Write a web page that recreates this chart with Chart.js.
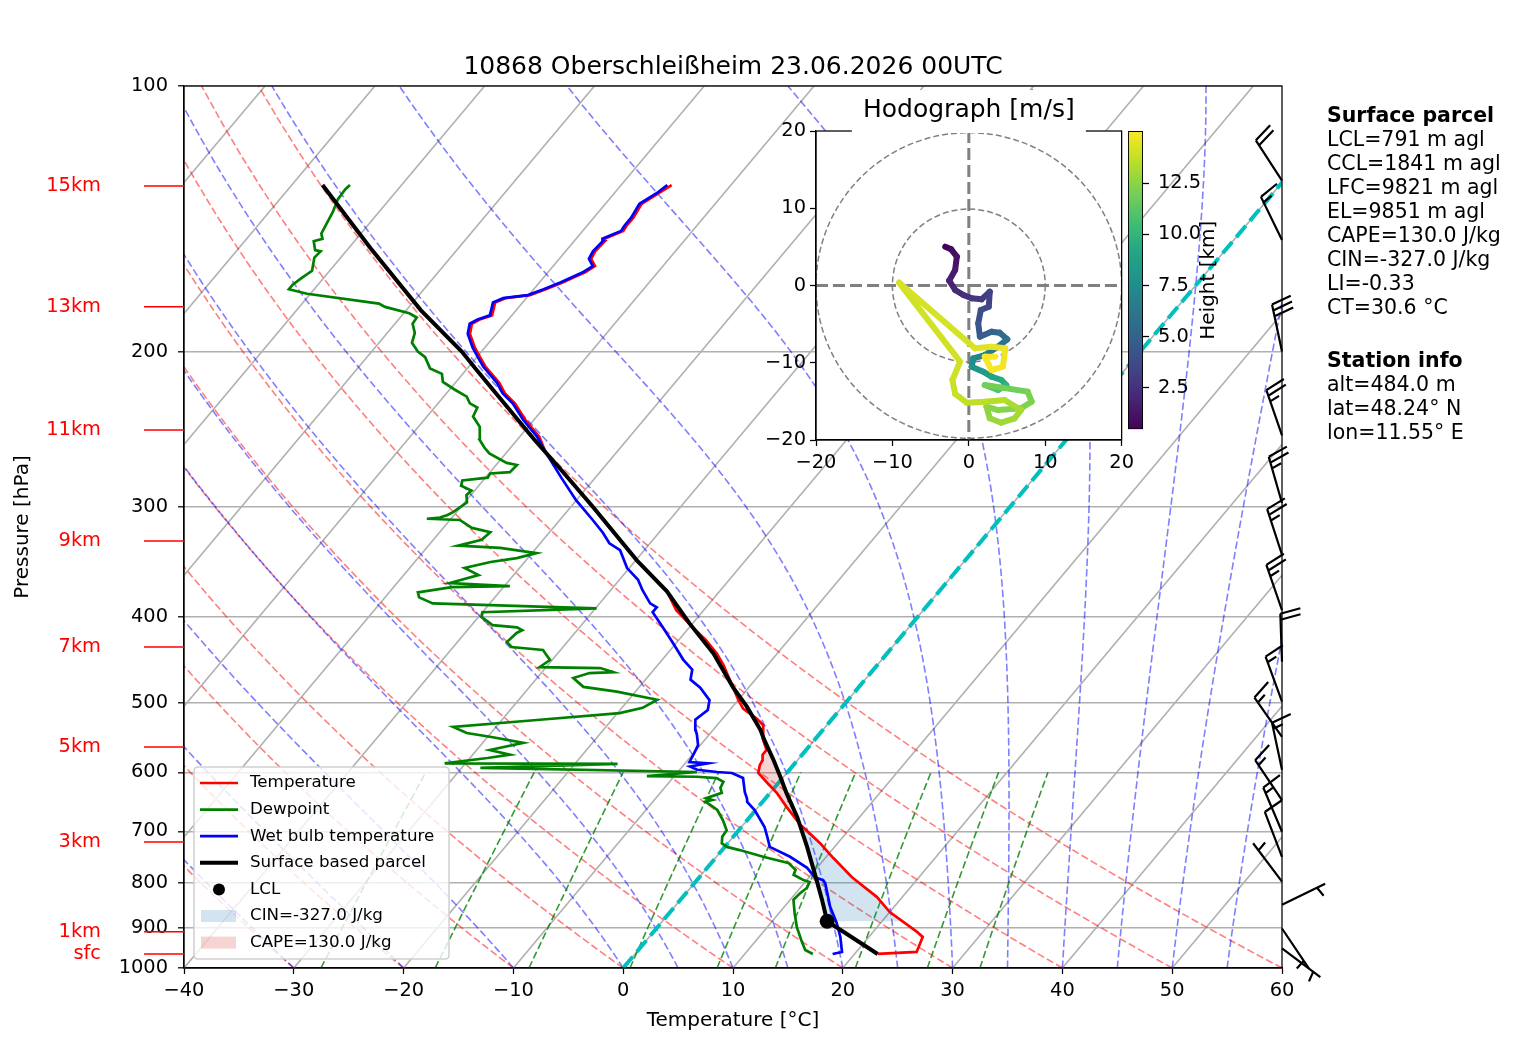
<!DOCTYPE html>
<html>
<head>
<meta charset="utf-8">
<script src="https://cdn.jsdelivr.net/npm/chart.js@4.4.1/dist/chart.umd.min.js"></script>
<style>
  html, body { margin: 0; padding: 0; background: #fff; }
  #wrap { position: relative; width: 1517px; height: 1054px; overflow: hidden; font-family: "DejaVu Sans", sans-serif; }
  canvas { position: absolute; }
  #main { left: 0; top: 0; }
  #hodo { left: 700px; top: 86px; }
  #cbar { left: 1120px; top: 100px; }
  .info { position: absolute; left: 1327px; font-size: 20.5px; line-height: 24px; color: #000; white-space: pre; }
</style>
</head>
<body>
<div id="wrap">
  <canvas id="main" width="1517" height="1054"></canvas>
  <canvas id="hodo" width="439" height="394"></canvas>
  <canvas id="cbar" width="138" height="350"></canvas>
  <div class="info" id="parcelInfo" style="top:102.6px"></div>
  <div class="info" id="stationInfo" style="top:347.6px"></div>
</div>
<script>
// ---- sounding data (surface -> top), pressure in hPa, temperature in degC ----
const tempP = [964,959,922,910,864,831,789,750,739,722,688,657,633,617,601,589,581,573,566,551,530.5,521.5,508,496.5,480,453.5,440,425,407,393,374,345,300,272,260,250,239,229,223,217,208,203,198,191,186,184,182,178.5,176,174,172.6,170,167,162.5,160,157,154,150,149,146,144,141,136,132,129.5];
const tempT = [22.1,25.5,24.9,24.0,20.0,17.7,13.9,10.7,9.8,8.4,5.2,2.6,0.6,-1.0,-2.6,-3.05,-3.2,-3.6,-3.6,-4.7,-5.8,-6.9,-8.9,-10.0,-11.5,-14.0,-15.5,-17.5,-20.3,-22.5,-24.8,-29.9,-38.0,-43.8,-46.5,-48.2,-50.8,-53.0,-54.7,-56.0,-58.5,-59.7,-60.9,-62.4,-63.0,-62.6,-61.8,-62.2,-62.5,-61.9,-59.9,-58.9,-57.9,-56.6,-56.2,-57.1,-57.3,-57.2,-57.4,-56.3,-56.4,-56.4,-56.7,-55.9,-55.4];

const dewP = [964,954,930,899,866,837,822,812,799,795,784,774,760,748,735,729,722,710,698,680,662,653,648,645,642,633,625,615,609,607,606,599.5,593,587,586,578,573,566,555.5,547.5,541.5,533,523.4,514,507,496.5,486,480,469,463,462,457,456,447.5,436,432.6,427,417,414,411,408.5,400,395,391,386,380,375,370,369,366,358.5,352,346.5,343,338.5,334,332,327,320.5,317,310.5,309.5,308.5,306.5,304,296.5,291,287.5,284,280,278,275,274,269,267.5,261,257,252,243.5,237,231.5,229,225,221,216.5,212,209,203,200,195.5,190.5,186,183,181,178,176.5,172,170,168,165,162,156.5,154,153.5,150,149,147,143,139,134.5,131,129.5];
const dewT = [16.2,15.2,14.1,12.7,11.4,10.3,10.4,10.6,10.4,9.7,8.4,8.2,7.0,4.25,1.6,0.2,-0.55,-1.0,-1.1,-2.2,-3.5,-4.55,-5.2,-4.7,-5.4,-4.4,-4.9,-5.1,-6.0,-7.9,-12.5,-8.25,-28.3,-16.1,-31.9,-28.4,-26.6,-28.8,-26.3,-29.5,-32.2,-33.9,-26.8,-19.8,-18.1,-17.4,-21.7,-25.1,-26.7,-25.6,-23.5,-25.0,-30.6,-30.2,-31.6,-34.7,-35.5,-35.3,-35.0,-35.7,-38.1,-39.7,-40.0,-29.9,-45.2,-46.9,-47.4,-44.7,-39.5,-45.2,-43.2,-45.0,-43.1,-41.0,-39.6,-43.3,-47.3,-45.6,-45.4,-47.4,-49.1,-52.2,-51.1,-50.6,-50.3,-49.8,-50.4,-50.3,-51.6,-51.9,-49.8,-49.9,-48.2,-48.1,-49.2,-51.5,-52.4,-53.4,-54.4,-55.8,-56.1,-57.1,-57.9,-59.5,-61.2,-61.9,-63.4,-64.7,-65.8,-67.0,-67.5,-68.4,-68.5,-69.5,-72.2,-73.0,-80.3,-82.3,-82.3,-82.0,-81.6,-82.4,-82.3,-82.9,-83.7,-83.1,-83.6,-83.9,-84.2,-84.7,-84.8,-84.7];

const wetP = [964,959,922,889,853,801,795,789,770,748,729,710,692,662,648,642,632,609,601,599.5,596,591,586,584,573,559,544,537,523,510,497,481,471,459,447,428,411,395,390,386,373,363,352,336,330,321,310.5,295,278,261,250,239,229,223,217,208,203,198,191,186,184,182,178.5,176,174,172.6,170,167,162.5,160,157,154,150,149,146,144,141,136,132,129.5];
const wetT = [18.0,18.7,17.4,16.0,14.2,11.9,11.5,10.5,9.1,6.7,4.1,3.1,2.1,-0.1,-1.4,-1.7,-2.35,-3.6,-5.0,-6.4,-8.4,-9.3,-7.9,-9.7,-9.9,-10.2,-11.1,-11.6,-12.4,-12.0,-12.6,-14.4,-15.9,-16.5,-18.1,-20.3,-22.4,-24.5,-24.5,-25.4,-27.1,-28.3,-30.2,-32.2,-33.7,-35.1,-37.0,-40.0,-43.1,-46.3,-48.4,-51.0,-53.2,-54.9,-56.2,-58.7,-59.9,-61.1,-62.6,-63.2,-62.8,-62.0,-62.4,-62.7,-62.1,-60.1,-59.1,-58.1,-56.8,-56.4,-57.3,-57.5,-57.4,-57.6,-56.5,-56.6,-56.6,-56.9,-56.1,-55.8];

const parcelP = [964,885,837,795,729,674,634,607,581,551,537,505.5,480,440,407,374,345,300,272,252,210,200,179.5,152.7,129.5];
const parcelT = [22.1,15.0,12.9,10.9,7.5,4.3,1.55,-0.3,-2.2,-4.6,-5.7,-8.7,-11.5,-15.8,-20.25,-24.8,-29.9,-38.0,-43.8,-48.4,-59.0,-61.8,-68.7,-78.0,-87.2];

const lclP = 885, lclT = 15.0;
const cinLayer = [885, 690];    // bottom, top (hPa)
const capeLayer = [688, 568];
const cinLabel = 'CIN=-327.0 J/kg';
const capeLabel = 'CAPE=130.0 J/kg';

// wind barbs: pressure, direction (deg, from), speed (kt)
const windP = [128,149.5,200,249,297,340,393,449.5,499,547,596,645,700.6,748,798,848,902,950];
const windDir = [327,334,348,341,344,342,341,358,340,325,348,326,337,339,323,64,146,127];
const windSpd = [20,15,30,25,25,25,25,20,15,15,15,15,15,10,5,5,5,5];

// hodograph: height (km), u, v (m/s)
const hodoH = [0.48,0.8,1.1,1.4,1.7,2.0,2.3,2.6,2.9,3.2,3.5,3.8,4.2,4.6,5.0,5.4,5.8,6.2,6.7,7.2,7.7,8.2,8.7,9.2,9.7,10.2,11.8,12.0,12.2,12.3,12.4,12.5,12.7,12.9,13.0,13.1,13.3,13.5,13.7,13.8,13.9,14.0,14.1,14.2,14.4,14.6,14.8,14.9,15.0,15.05];
const hodoU = [-3.09,-2.31,-1.57,-1.79,-2.57,-1.79,-0.71,0.37,1.66,2.74,2.61,1.57,1.23,1.45,2.96,4.03,5.03,3.82,2.09,0.58,0.37,1.88,2.96,4.25,4.90,3.82,2.09,7.70,8.22,6.84,3.82,2.31,2.74,4.25,5.98,6.84,4.68,2.09,-0.28,-1.79,-2.14,-1.14,-9.13,0.80,2.96,4.77,4.46,2.96,2.09,3.39];
const hodoV = [5.03,4.68,3.73,2.01,0.63,-0.58,-1.23,-1.66,-1.79,-0.80,-2.74,-3.17,-4.90,-6.62,-5.98,-6.11,-6.97,-7.92,-9.00,-9.43,-10.51,-11.15,-11.80,-12.23,-12.88,-13.53,-12.88,-13.74,-15.04,-15.90,-16.12,-15.68,-17.19,-17.76,-17.19,-16.12,-14.82,-15.04,-15.17,-14.04,-12.23,-9.86,0.37,-8.13,-7.92,-8.13,-10.51,-10.94,-9.21,-9.21];
const hodoRings = [10, 20];
const cbarRange = [0.48, 15.05];
const cbarTicks = [2.5, 5.0, 7.5, 10.0, 12.5];

// axes, reference lines and labels
const pressureTicks = [100,200,300,400,500,600,700,800,900,1000];
const heightLabels = ['15km','13km','11km','9km','7km','5km','3km','1km','sfc'];
const heightP = [129.8,178,245.5,328,432.6,561.6,719.7,910,964];
const isothermT = [-100,-90,-80,-70,-60,-50,-40,-30,-20,-10,0,10,20,30,40,50];
const dryAdiabatT0 = [-40,-30,-20,-10,0,10,20,30,40,50,60];
const moistAdiabatT0 = [-40,-30,-20,-10,0,5,10,15,20,25,30,35,40,45,50,55,60];
const mixingRatios = [0.0004,0.001,0.002,0.004,0.007,0.01,0.016,0.024,0.032];

const titleText = '10868 Oberschleißheim 23.06.2026 00UTC';
const parcelInfo = ['LCL=791 m agl','CCL=1841 m agl','LFC=9821 m agl','EL=9851 m agl','CAPE=130.0 J/kg','CIN=-327.0 J/kg','LI=-0.33','CT=30.6 °C'];
const stationInfo = ['alt=484.0 m','lat=48.24° N','lon=11.55° E'];

const VIRIDIS = ['#440154','#482475','#414487','#355f8d','#2a788e','#21918c','#22a884','#44bf70','#7ad151','#bddf26','#fde725'];

// ---- helpers ----
const FONT = '"DejaVu Sans", sans-serif';
const FS_TICK = 19.4;
Chart.defaults.font.family = FONT;
Chart.defaults.color = '#000';

const SKEW = 67.38;  // degC shift per decade of pressure
const skewX = (t, p) => t + SKEW * (3 - Math.log10(p));
const toPts = (pArr, tArr) => pArr.map((p, i) => ({ x: skewX(tArr[i], p), y: p }));
const minus = v => (v < 0 ? '\u2212' + Math.abs(v) : String(v));

const RD = 287.04749, CP = 1004.6662, LV = 2.50084e6, EPS = 0.6219569, KAPPA = RD / CP;
const pLevels = [];
for (let p = 1000; p >= 100; p -= 10) pLevels.push(p);

function moistAdiabat(t0) {
  const slope = (T, p) => {
    const es = 6.112 * Math.exp(17.67 * (T - 273.15) / (T - 29.65));
    const rs = EPS * es / (p - es);
    return (RD * T + LV * rs) / (p * (CP + (LV * LV * rs * EPS) / (RD * T * T)));
  };
  let T = t0 + 273.15, p = 1000;
  const out = [{ x: skewX(t0, 1000), y: 1000 }];
  const h = -5;
  while (p > 100) {
    const k1 = slope(T, p);
    const k2 = slope(T + h * k1 / 2, p + h / 2);
    const k3 = slope(T + h * k2 / 2, p + h / 2);
    const k4 = slope(T + h * k3, p + h);
    T += h * (k1 + 2 * k2 + 2 * k3 + k4) / 6;
    p += h;
    out.push({ x: skewX(T - 273.15, p), y: p });
  }
  return out;
}

function mixingLine(w) {
  const out = [];
  for (let p = 1000; p >= 600; p -= 20) {
    const e = p * w / (EPS + w);
    const l = Math.log(e / 6.112);
    out.push({ x: skewX(243.5 * l / (17.67 - l), p), y: p });
  }
  return out;
}

function interpT(pArr, tArr, p) {
  for (let i = 0; i < pArr.length - 1; i++) {
    const p0 = pArr[i], p1 = pArr[i + 1];
    if ((p0 - p) * (p1 - p) <= 0 && p0 !== p1) {
      const f = (Math.log(p) - Math.log(p0)) / (Math.log(p1) - Math.log(p0));
      return tArr[i] + f * (tArr[i + 1] - tArr[i]);
    }
  }
  return NaN;
}

// closed ring: parcel going up, environment coming back down
function areaBetween([pBot, pTop]) {
  const ring = [{ p: pBot, t: interpT(parcelP, parcelT, pBot) }];
  parcelP.forEach((p, i) => { if (p < pBot && p > pTop) ring.push({ p, t: parcelT[i] }); });
  ring.push({ p: pTop, t: interpT(parcelP, parcelT, pTop) });
  ring.push({ p: pTop, t: interpT(tempP, tempT, pTop) });
  const env = [];
  tempP.forEach((p, i) => { if (p < pBot && p > pTop) env.push({ p, t: tempT[i] }); });
  env.reverse().forEach(o => ring.push(o));
  ring.push({ p: pBot, t: interpT(tempP, tempT, pBot) });
  return ring.map(o => ({ x: skewX(o.t, o.p), y: o.p }));
}

function viridis(v) {
  const t = Math.min(1, Math.max(0, v)) * (VIRIDIS.length - 1);
  const i = Math.min(VIRIDIS.length - 2, Math.floor(t));
  const f = t - i;
  const a = VIRIDIS[i], b = VIRIDIS[i + 1];
  const c = k => Math.round(parseInt(a.substr(k, 2), 16) * (1 - f) + parseInt(b.substr(k, 2), 16) * f);
  return `rgb(${c(1)},${c(3)},${c(5)})`;
}

function mkLine(data, color, width, dash, order, extra) {
  return Object.assign({
    data, borderColor: color, backgroundColor: color, borderWidth: width,
    borderDash: dash, pointRadius: 0, showLine: true, fill: false, order, clip: 0
  }, extra || {});
}

// ---- main skew-T ----
const datasets = [
  mkLine([{ x: skewX(lclT, lclP), y: lclP }], '#000', 0, [], 0,
    { label: 'LCL', showLine: false, pointRadius: 7.5, legendKind: 'dot', clip: false }),
  mkLine(toPts(parcelP, parcelT), '#000', 4, [], 1, { label: 'Surface based parcel', legendKind: 'line' }),
  mkLine(toPts(wetP, wetT), '#0000ff', 2.7, [], 2, { label: 'Wet bulb temperature', legendKind: 'line' }),
  mkLine(toPts(dewP, dewT), '#008000', 2.7, [], 3, { label: 'Dewpoint', legendKind: 'line' }),
  mkLine(toPts(tempP, tempT), '#ff0000', 2.7, [], 4, { label: 'Temperature', legendKind: 'line' }),
  mkLine(areaBetween(cinLayer), 'rgba(0,0,0,0)', 0, [], 5,
    { label: cinLabel, fill: 'shape', backgroundColor: 'rgba(31,119,180,0.2)', legendKind: 'patch' }),
  mkLine(areaBetween(capeLayer), 'rgba(0,0,0,0)', 0, [], 5,
    { label: capeLabel, fill: 'shape', backgroundColor: 'rgba(214,39,40,0.2)', legendKind: 'patch' }),
  mkLine([{ x: skewX(0, 1000), y: 1000 }, { x: skewX(0, 100), y: 100 }], '#00bfbf', 4, [14.8, 6.4], 6)
];
mixingRatios.forEach(w => datasets.push(mkLine(mixingLine(w), 'rgba(0,128,0,0.8)', 1.6, [7.4, 3.2], 7)));
moistAdiabatT0.forEach(t0 => datasets.push(mkLine(moistAdiabat(t0), 'rgba(0,0,255,0.5)', 1.6, [7.4, 3.2], 8)));
dryAdiabatT0.forEach(t0 => datasets.push(mkLine(
  pLevels.map(p => ({ x: skewX((t0 + 273.15) * Math.pow(p / 1000, KAPPA) - 273.15, p), y: p })),
  'rgba(255,0,0,0.5)', 1.6, [7.4, 3.2], 9)));
isothermT.forEach(t => datasets.push(mkLine(
  [{ x: skewX(t, 1000), y: 1000 }, { x: skewX(t, 100), y: 100 }], '#b0b0b0', 1.6, [], 10)));

const legendOrder = ['Temperature', 'Dewpoint', 'Wet bulb temperature', 'Surface based parcel', 'LCL', cinLabel, capeLabel];

function drawBarb(ctx, bx, by, dirDeg, spd) {
  const L = 48, spacing = 0.125 * L, out = 0.42 * L, along = 0.1 * L;
  const r = dirDeg * Math.PI / 180;
  const sx = Math.sin(r), sy = -Math.cos(r);
  const px = -sy, py = sx;
  const tx = bx + sx * L, ty = by + sy * L;
  ctx.beginPath();
  ctx.moveTo(bx, by); ctx.lineTo(tx, ty);
  let rest = Math.round(spd / 5) * 5;
  const flags = Math.floor(rest / 50); rest -= flags * 50;
  const fulls = Math.floor(rest / 10); rest -= fulls * 10;
  const half = rest >= 5;
  let off = 0;
  for (let i = 0; i < flags; i++) {
    const qx = tx - sx * off, qy = ty - sy * off;
    ctx.moveTo(qx, qy);
    ctx.lineTo(qx + px * out - sx * spacing, qy + py * out - sy * spacing);
    ctx.lineTo(qx - sx * 2 * spacing, qy - sy * 2 * spacing);
    off += 2.5 * spacing;
  }
  for (let i = 0; i < fulls; i++) {
    const qx = tx - sx * off, qy = ty - sy * off;
    ctx.moveTo(qx, qy);
    ctx.lineTo(qx + px * out + sx * along, qy + py * out + sy * along);
    off += spacing;
  }
  if (half) {
    if (flags === 0 && fulls === 0) off += 1.5 * spacing;
    const qx = tx - sx * off, qy = ty - sy * off;
    ctx.moveTo(qx, qy);
    ctx.lineTo(qx + px * out / 2 + sx * along / 2, qy + py * out / 2 + sy * along / 2);
  }
  ctx.stroke();
}

const skewDecor = {
  id: 'skewDecor',
  afterDatasetsDraw(chart) {
    const { ctx, chartArea: a, scales } = chart;
    const ys = scales.y;
    ctx.save();
    ctx.setLineDash([]);
    ctx.strokeStyle = '#000';
    ctx.lineWidth = 1.25;
    ctx.strokeRect(a.left, a.top, a.right - a.left, a.bottom - a.top);

    // height markers
    ctx.strokeStyle = 'red'; ctx.fillStyle = 'red'; ctx.lineWidth = 1.5;
    ctx.font = `${FS_TICK}px ${FONT}`;
    ctx.textAlign = 'right'; ctx.textBaseline = 'middle';
    heightLabels.forEach((lab, i) => {
      const py = ys.getPixelForValue(heightP[i]);
      ctx.beginPath(); ctx.moveTo(144, py); ctx.lineTo(a.left, py); ctx.stroke();
      ctx.fillText(lab, 101, py);
    });

    // wind barbs on the right spine
    ctx.strokeStyle = '#000'; ctx.lineWidth = 2.2; ctx.lineCap = 'butt';
    windP.forEach((p, i) => drawBarb(ctx, a.right, ys.getPixelForValue(p), windDir[i], windSpd[i]));

    // legend
    const lx = 194, ly = 767, lw = 255, lh = 192, rr = 4;
    ctx.beginPath();
    ctx.moveTo(lx + rr, ly); ctx.lineTo(lx + lw - rr, ly); ctx.quadraticCurveTo(lx + lw, ly, lx + lw, ly + rr);
    ctx.lineTo(lx + lw, ly + lh - rr); ctx.quadraticCurveTo(lx + lw, ly + lh, lx + lw - rr, ly + lh);
    ctx.lineTo(lx + rr, ly + lh); ctx.quadraticCurveTo(lx, ly + lh, lx, ly + lh - rr);
    ctx.lineTo(lx, ly + rr); ctx.quadraticCurveTo(lx, ly, lx + rr, ly);
    ctx.closePath();
    ctx.fillStyle = 'rgba(255,255,255,0.8)'; ctx.fill();
    ctx.strokeStyle = '#d0d0d0'; ctx.lineWidth = 1.5; ctx.stroke();
    ctx.font = `16.7px ${FONT}`; ctx.textAlign = 'left'; ctx.textBaseline = 'middle';
    legendOrder.forEach((label, i) => {
      const ds = chart.data.datasets.find(d => d.label === label);
      const cy = 783 + i * 26.6;
      if (ds.legendKind === 'line') {
        ctx.strokeStyle = ds.borderColor; ctx.lineWidth = ds.borderWidth;
        ctx.beginPath(); ctx.moveTo(200, cy); ctx.lineTo(238, cy); ctx.stroke();
      } else if (ds.legendKind === 'dot') {
        ctx.fillStyle = ds.backgroundColor;
        ctx.beginPath(); ctx.arc(219, cy, 6, 0, 2 * Math.PI); ctx.fill();
      } else {
        ctx.fillStyle = ds.backgroundColor;
        ctx.fillRect(201, cy - 6, 35, 12);
      }
      ctx.fillStyle = '#000';
      ctx.fillText(label, 250, cy);
    });

    // title
    ctx.font = `25px ${FONT}`; ctx.textAlign = 'center'; ctx.textBaseline = 'alphabetic';
    ctx.fillText(titleText, (a.left + a.right) / 2, 73.5);
    ctx.restore();
  }
};

new Chart(document.getElementById('main'), {
  type: 'scatter',
  data: { datasets },
  options: {
    responsive: false, animation: false, events: [],
    layout: { padding: { left: 0, top: 86, right: 235, bottom: 0 } },
    scales: {
      x: {
        type: 'linear', min: -40, max: 60,
        ticks: { stepSize: 10, padding: 5, maxRotation: 0, autoSkip: false, font: { size: FS_TICK }, color: '#000', callback: minus },
        grid: { drawOnChartArea: false, tickLength: 6, tickColor: '#000', tickWidth: 1.25 },
        border: { color: '#000', width: 1.25 },
        title: { display: true, text: 'Temperature [°C]', font: { size: 20 }, color: '#000', padding: { top: 0, bottom: 21 } },
        afterFit: s => { s.height = 86; }
      },
      y: {
        type: 'logarithmic', reverse: true, min: 100, max: 1000,
        afterBuildTicks: s => { s.ticks = pressureTicks.map(v => ({ value: v })); },
        ticks: { padding: 10, autoSkip: false, font: { size: FS_TICK }, color: '#000', callback: v => String(v) },
        grid: { color: '#b0b0b0', lineWidth: 1.6, tickLength: 6, tickColor: '#000', tickWidth: 1.25 },
        border: { color: '#000', width: 1.25 },
        title: { display: true, text: 'Pressure [hPa]', font: { size: 20 }, color: '#000', padding: { top: 11, bottom: 0 } },
        afterFit: s => { s.width = 184; }
      }
    },
    plugins: { legend: { display: false }, tooltip: { enabled: false } }
  },
  plugins: [skewDecor]
});

// ---- hodograph inset ----
const hNorm = h => (h - cbarRange[0]) / (cbarRange[1] - cbarRange[0]);
const hodoDecor = {
  id: 'hodoDecor',
  beforeDraw(chart) {
    const { ctx, chartArea: a } = chart;
    ctx.save(); ctx.fillStyle = '#fff';
    ctx.fillRect(a.left, a.top, a.right - a.left, a.bottom - a.top);
    ctx.restore();
  },
  beforeDatasetsDraw(chart) {
    const { ctx, chartArea: a, scales: { x, y } } = chart;
    const cx = x.getPixelForValue(0), cy = y.getPixelForValue(0);
    ctx.save();
    ctx.beginPath(); ctx.rect(a.left, a.top, a.right - a.left, a.bottom - a.top); ctx.clip();
    ctx.strokeStyle = 'gray'; ctx.lineWidth = 1.5; ctx.setLineDash([6, 3]);
    hodoRings.forEach(r => {
      const rp = Math.abs(x.getPixelForValue(r) - cx);
      ctx.beginPath(); ctx.arc(cx, cy, rp, 0, 2 * Math.PI); ctx.stroke();
    });
    ctx.lineWidth = 3; ctx.setLineDash([12, 5]);
    ctx.beginPath();
    ctx.moveTo(a.left, cy); ctx.lineTo(a.right, cy);
    ctx.moveTo(cx, a.top); ctx.lineTo(cx, a.bottom);
    ctx.stroke();
    ctx.restore();
  },
  afterDraw(chart) {
    const { ctx, chartArea: a } = chart;
    ctx.save();
    ctx.strokeStyle = '#000'; ctx.lineWidth = 1.25;
    ctx.strokeRect(a.left, a.top, a.right - a.left, a.bottom - a.top);
    const cx = (a.left + a.right) / 2;
    ctx.fillStyle = '#fff';
    ctx.fillRect(cx - 117, 4, 234, a.top - 2);
    ctx.fillStyle = '#000'; ctx.font = `25px ${FONT}`;
    ctx.textAlign = 'center'; ctx.textBaseline = 'alphabetic';
    ctx.fillText('Hodograph [m/s]', cx, 30.5);
    ctx.restore();
  }
};

const hodoAxis = (extra) => Object.assign({
  type: 'linear', min: -20, max: 20,
  ticks: { stepSize: 10, padding: 5, font: { size: FS_TICK }, color: '#000', callback: minus, maxRotation: 0 },
  grid: { drawOnChartArea: false, tickLength: 6, tickColor: '#000', tickWidth: 1.25 },
  border: { color: '#000', width: 1.25 }
}, extra);

new Chart(document.getElementById('hodo'), {
  type: 'scatter',
  data: {
    datasets: [{
      data: hodoU.map((u, i) => ({ x: u, y: hodoV[i] })),
      showLine: true, pointRadius: 0, borderWidth: 6,
      borderCapStyle: 'round', borderJoinStyle: 'round',
      borderColor: viridis(0),
      segment: { borderColor: c => viridis(hNorm((hodoH[c.p0DataIndex] + hodoH[c.p1DataIndex]) / 2)) }
    }]
  },
  options: {
    responsive: false, animation: false, events: [],
    layout: { padding: { left: 0, top: 45, right: 14, bottom: 0 } },
    scales: {
      x: hodoAxis({ afterFit: s => { s.height = 40; } }),
      y: hodoAxis({ ticks: { stepSize: 10, padding: 4, font: { size: FS_TICK }, color: '#000', callback: minus }, afterFit: s => { s.width = 116; } })
    },
    plugins: { legend: { display: false }, tooltip: { enabled: false } }
  },
  plugins: [hodoDecor]
});

// ---- colorbar ----
new Chart(document.getElementById('cbar'), {
  type: 'bar',
  data: {
    labels: [''],
    datasets: [{
      data: [cbarRange],
      backgroundColor: c => {
        const a = c.chart.chartArea;
        if (!a) return VIRIDIS[5];
        const g = c.chart.ctx.createLinearGradient(0, a.bottom, 0, a.top);
        VIRIDIS.forEach((col, i) => g.addColorStop(i / (VIRIDIS.length - 1), col));
        return g;
      },
      borderColor: '#000', borderWidth: 1.25, borderSkipped: false,
      barPercentage: 1, categoryPercentage: 1
    }]
  },
  options: {
    responsive: false, animation: false, events: [],
    layout: { padding: { left: 8, top: 31, right: 0, bottom: 10 } },
    scales: {
      x: { display: false },
      y: {
        position: 'right', min: cbarRange[0], max: cbarRange[1],
        afterBuildTicks: s => { s.ticks = cbarTicks.map(v => ({ value: v })); },
        ticks: { padding: 9, font: { size: FS_TICK }, color: '#000', callback: v => v.toFixed(1) },
        grid: { drawOnChartArea: false, tickLength: 6, tickColor: '#000', tickWidth: 1.25 },
        border: { display: false },
        afterFit: s => { s.width = 115; }
      }
    },
    plugins: { legend: { display: false }, tooltip: { enabled: false } }
  },
  plugins: [{
    id: 'cbarLabel',
    afterDraw(chart) {
      const { ctx, chartArea: a } = chart;
      ctx.save();
      ctx.translate(89, (a.top + a.bottom) / 2);
      ctx.rotate(-Math.PI / 2);
      ctx.font = `20px ${FONT}`; ctx.fillStyle = '#000';
      ctx.textAlign = 'center'; ctx.textBaseline = 'middle';
      ctx.fillText('Height [km]', 0, 0);
      ctx.restore();
    }
  }]
});

// ---- text panel ----
document.getElementById('parcelInfo').innerHTML = '<b>Surface parcel</b>\n' + parcelInfo.join('\n');
document.getElementById('stationInfo').innerHTML = '<b>Station info</b>\n' + stationInfo.join('\n');
</script>
</body>
</html>
